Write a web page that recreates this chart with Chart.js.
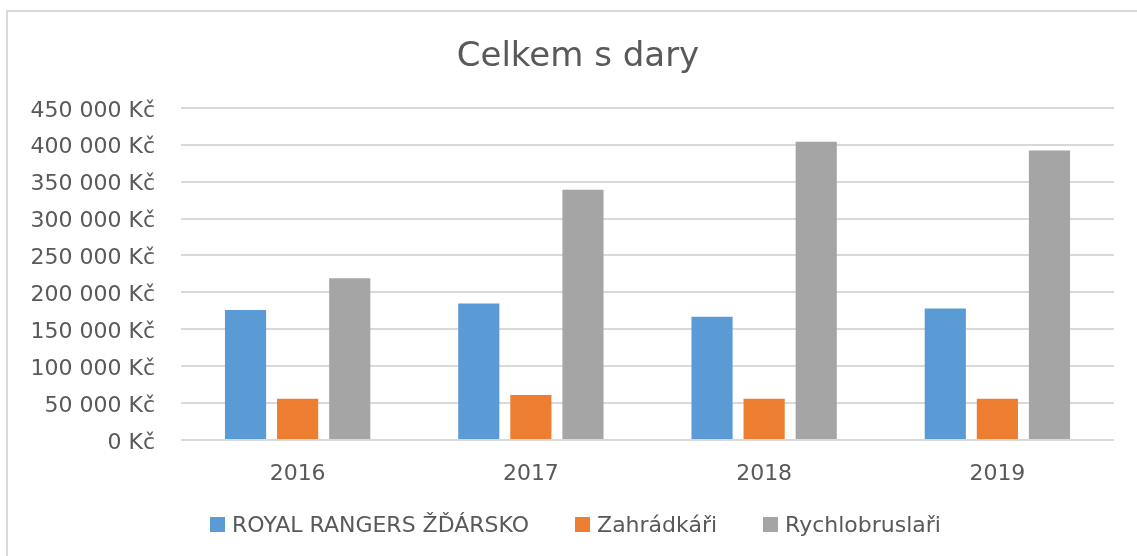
<!DOCTYPE html>
<html>
<head>
<meta charset="utf-8">
<script src="https://cdn.jsdelivr.net/npm/chart.js@4.4.1/dist/chart.umd.min.js"></script>
<style>
  html, body { margin: 0; padding: 0; background: #fff; overflow: hidden; }
  #frame { position: absolute; left: 6px; top: 10px; width: 1300px; height: 700px;
           border-left: 2px solid #d9d9d9; border-top: 2px solid #d9d9d9; }
  #wrap { position: absolute; left: 0; top: 0; width: 1137px; height: 556px; }
  #legend { position: absolute; left: 0; top: 512px; width: 1137px; display: flex;
            justify-content: center; gap: 46px; font-family: "DejaVu Sans"; font-size: 22px;
            color: #595959; padding-left: 14px; box-sizing: border-box; }
  #legend span.item { display: flex; align-items: center; white-space: nowrap; }
  #legend span.box { display: inline-block; width: 15px; height: 15px; margin-right: 7px; }
</style>
</head>
<body>
<div id="frame"></div>
<div id="wrap"><canvas id="barChart" width="1137" height="556"></canvas></div>
<div id="legend"></div>
<script>
var years = ['2016', '2017', '2018', '2019'];
var royalRangers = [176000, 185000, 167000, 178000];
var zahradkari = [56000, 61000, 56000, 56000];
var rychlobruslari = [219000, 339000, 404000, 392000];
var seriesNames = ['ROYAL RANGERS ŽĎÁRSKO', 'Zahrádkáři', 'Rychlobruslaři'];
var seriesColors = ['#5b9bd5', '#ed7d31', '#a5a5a5'];

function formatKc(value) {
  return String(value).replace(/\B(?=(\d{3})+(?!\d))/g, ' ') + ' Kč';
}

var textColor = '#595959';
var gridColor = '#d9d9d9';

var barData = {
  labels: years,
  datasets: [
    { label: seriesNames[0], data: royalRangers, backgroundColor: seriesColors[0] },
    { label: seriesNames[1], data: zahradkari, backgroundColor: seriesColors[1] },
    { label: seriesNames[2], data: rychlobruslari, backgroundColor: seriesColors[2] }
  ]
};

// the title in the original sits centred on the whole frame, not on the plot
var titleShift = {
  id: 'titleShift',
  afterLayout: function(chart) {
    if (chart.titleBlock) chart.titleBlock.left = 42;
  }
};

var barOptions = {
  responsive: false,
  animation: false,
  devicePixelRatio: 1,
  categoryPercentage: 0.67,
  barPercentage: 0.79,
  layout: { padding: { left: 0, right: 23, top: 0, bottom: 56 } },
  plugins: {
    legend: { display: false },
    tooltip: { enabled: false },
    title: {
      display: true,
      text: 'Celkem s dary',
      color: textColor,
      font: { family: 'DejaVu Sans', size: 34, weight: 'normal' },
      padding: { top: 37, bottom: 30 }
    }
  },
  scales: {
    x: {
      grid: { display: false },
      border: { display: false },
      ticks: { color: textColor, font: { family: 'DejaVu Sans', size: 22 }, padding: 13 },
      afterFit: function(axis) { axis.height = 60; }
    },
    y: {
      min: 0,
      max: 450000,
      grid: { color: gridColor, lineWidth: 2, drawTicks: false },
      border: { display: false },
      ticks: {
        stepSize: 50000,
        color: textColor,
        padding: 26,
        labelOffset: 3,
        font: { family: 'DejaVu Sans', size: 22 },
        callback: function(v) { return formatKc(v); }
      },
      afterFit: function(axis) { axis.width = 181; }
    }
  }
};

var ctx = document.getElementById('barChart').getContext('2d');
var barChart = new Chart(ctx, { type: 'bar', data: barData, options: barOptions, plugins: [titleShift] });

// legend as real text under the chart
var legendBox = document.getElementById('legend');
for (var i = 0; i < seriesNames.length; i++) {
  var item = document.createElement('span');
  item.className = 'item';
  var box = document.createElement('span');
  box.className = 'box';
  box.style.background = seriesColors[i];
  item.appendChild(box);
  item.appendChild(document.createTextNode(seriesNames[i]));
  legendBox.appendChild(item);
}
</script>
</body>
</html>
